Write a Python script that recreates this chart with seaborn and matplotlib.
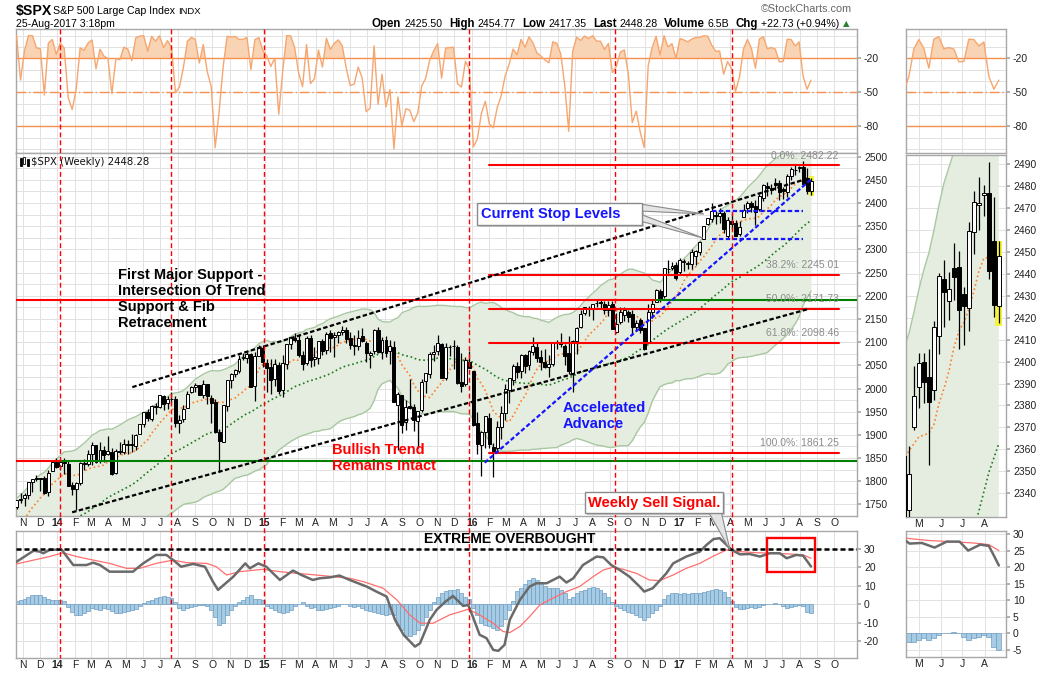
import numpy as np
import pandas as pd
import matplotlib
matplotlib.use("Agg")
import matplotlib.pyplot as plt
import matplotlib.dates as mdates
from matplotlib.patches import Rectangle, Polygon
from matplotlib.lines import Line2D
import seaborn as sns

sns.set_theme(style="white")
plt.rcParams["font.family"] = ["Liberation Sans", "DejaVu Sans"]
plt.rcParams["axes.unicode_minus"] = False

# ------------------------------------------------------------------ data
# weekly candles, one per week, first week starting Monday 2013-10-21
first_monday = "2013-10-21"

opens = [
    1744.7, 1759.4, 1763.4, 1769.7, 1798.8, 1806.3, 1806.6, 1806.2, 1777.5, 1822.9, 1841.5,
    1832.3, 1841.3, 1837.2, 1791.0, 1782.7, 1796.2, 1838.8, 1836.8, 1857.7, 1877.9, 1842.8, 1867.7,
    1859.2, 1863.9, 1818.2, 1865.8, 1863.6, 1879.5, 1880.0, 1876.7, 1902.0, 1923.9, 1949.0, 1934.8,
    1962.9, 1960.8, 1984.2, 1967.7, 1976.9, 1978.3, 1926.0, 1933.4, 1958.4, 1991.7, 2004.1, 2007.2,
    1986.0, 2009.1, 1979.0, 1970.0, 1905.7, 1885.6, 1963.0, 2018.2, 2032.0, 2038.3, 2065.1, 2065.8,
    2074.8, 2005.0, 2069.5, 2087.6,
    2054.4, 2046.1, 2020.8, 2050.4, 1996.7, 2053.5, 2096.5, 2109.8, 2105.2, 2072.3, 2055.4, 2108.0,
    2064.1, 2064.9, 2102.0, 2084.1, 2119.3, 2110.2, 2115.6, 2121.3, 2125.3, 2108.6, 2092.3, 2091.3,
    2112.5, 2098.6, 2073.0, 2080.0, 2126.9, 2078.2, 2104.5, 2081.0, 2089.7, 1965.2, 1986.7, 1927.3,
    1963.1, 1960.8, 1929.2, 1954.3, 2015.7, 2031.7, 2075.1, 2080.8, 2096.6, 2022.1, 2089.4, 2091.0,
    2090.4, 2013.4, 2010.3, 2057.8,
    2038.2, 1926.1, 1878.9, 1906.3, 1936.9, 1873.3, 1871.4, 1917.8, 1947.1, 1996.1, 2019.3, 2047.9,
    2037.9, 2073.2, 2050.2, 2078.8, 2089.4, 2067.2, 2057.6, 2046.5, 2052.2, 2100.1, 2100.8, 2091.8,
    2075.6, 2031.5, 2103.0, 2131.7, 2162.0, 2173.1, 2173.1, 2183.8, 2186.1, 2181.6, 2170.2, 2181.6,
    2120.9, 2144.0, 2158.5, 2164.3, 2160.4, 2133.0, 2148.5, 2129.8, 2100.6, 2165.6, 2186.4, 2210.2,
    2200.6, 2258.8, 2259.2, 2266.2,
    2251.6, 2273.6, 2269.1, 2267.8, 2286.0, 2294.3, 2321.7, 2354.0, 2366.1, 2375.2, 2371.6, 2378.2,
    2329.1, 2362.3, 2357.2, 2332.6, 2370.3, 2388.5, 2399.9, 2393.0, 2387.2, 2411.7, 2437.8, 2427.4,
    2442.5, 2443.3, 2431.0, 2424.5, 2459.1, 2471.5, 2475.9, 2476.9, 2455.0, 2425.5,
]

highs = [
    1759.8, 1775.2, 1774.5, 1798.2, 1804.8, 1813.6, 1806.6, 1811.5, 1823.8, 1844.9, 1849.4,
    1843.2, 1850.8, 1844.9, 1798.8, 1798.0, 1841.6, 1847.5, 1867.9, 1883.6, 1878.3, 1884.0, 1875.2,
    1897.3, 1872.4, 1869.6, 1884.9, 1891.3, 1889.1, 1902.2, 1901.3, 1924.0, 1949.4, 1955.6, 1963.9,
    1968.2, 1985.6, 1985.6, 1983.9, 1991.4, 1984.9, 1942.9, 1964.0, 1994.8, 2005.0, 2011.2, 2007.7,
    2019.3, 2010.3, 1986.0, 1977.4, 1912.0, 1965.3, 2018.2, 2034.3, 2041.3, 2071.5, 2075.8, 2079.5,
    2075.8, 2077.9, 2093.5, 2093.5,
    2064.4, 2064.1, 2064.6, 2057.6, 2072.4, 2097.0, 2110.6, 2119.6, 2117.5, 2081.4, 2113.9, 2114.9,
    2089.8, 2102.6, 2107.0, 2120.9, 2125.9, 2121.0, 2123.9, 2134.7, 2132.3, 2121.9, 2115.0, 2126.7,
    2130.0, 2102.6, 2081.6, 2128.0, 2132.8, 2110.6, 2112.7, 2105.4, 2103.5, 1993.5, 1986.7, 1975.0,
    2020.9, 1966.2, 1951.4, 2020.1, 2033.5, 2079.7, 2094.3, 2116.5, 2099.2, 2097.1, 2094.1, 2104.3,
    2093.8, 2076.7, 2067.4, 2081.6,
    2038.2, 1950.3, 1908.9, 1940.2, 1947.2, 1881.6, 1930.7, 1963.0, 2009.1, 2022.4, 2052.4, 2056.6,
    2074.0, 2075.1, 2083.2, 2111.1, 2099.9, 2083.4, 2084.9, 2071.9, 2100.8, 2105.3, 2120.6, 2096.1,
    2113.3, 2105.2, 2131.7, 2169.1, 2175.6, 2178.3, 2182.9, 2193.8, 2193.4, 2187.9, 2187.9, 2187.9,
    2162.3, 2175.3, 2175.3, 2169.6, 2169.6, 2148.4, 2151.4, 2131.1, 2182.3, 2189.9, 2214.1, 2214.1,
    2259.5, 2277.5, 2272.6, 2273.8,
    2282.1, 2279.3, 2276.0, 2301.0, 2299.4, 2319.2, 2351.3, 2368.3, 2401.0, 2383.6, 2390.0, 2382.4,
    2370.4, 2378.4, 2364.2, 2361.4, 2398.2, 2403.9, 2403.9, 2405.8, 2418.7, 2440.2, 2446.2, 2440.9,
    2453.8, 2450.4, 2434.0, 2463.5, 2477.6, 2484.0, 2480.4, 2490.9, 2474.9, 2454.77,
]

lows = [
    1740.5, 1752.7, 1746.2, 1760.6, 1777.2, 1800.1, 1779.1, 1772.3, 1767.9, 1822.9, 1827.7,
    1823.7, 1815.8, 1790.3, 1770.5, 1737.9, 1791.8, 1824.6, 1832.4, 1834.4, 1839.6, 1839.9, 1842.0,
    1856.7, 1814.4, 1815.8, 1859.5, 1859.8, 1859.8, 1862.4, 1868.1, 1901.3, 1916.0, 1929.6, 1930.0,
    1944.7, 1958.2, 1952.9, 1955.6, 1965.7, 1916.4, 1904.8, 1928.3, 1958.4, 1990.5, 1991.6, 1985.2,
    1978.6, 1966.0, 1926.0, 1905.0, 1820.7, 1883.8, 1951.4, 2001.0, 2025.9, 2034.4, 2062.3, 2054.3,
    2002.3, 1972.6, 2069.3, 2046.0,
    1992.4, 1988.1, 2004.5, 1989.2, 1980.9, 2041.9, 2085.4, 2099.4, 2067.3, 2039.7, 2049.9, 2045.5,
    2048.4, 2052.1, 2072.4, 2073.5, 2077.8, 2067.9, 2099.1, 2115.2, 2099.1, 2085.7, 2072.1, 2084.0,
    2101.4, 2056.3, 2044.0, 2075.0, 2077.1, 2063.5, 2067.0, 2052.1, 1970.9, 1867.0, 1903.1, 1911.5,
    1956.6, 1908.8, 1871.9, 1949.4, 1990.7, 2022.1, 2058.8, 2072.8, 2022.0, 2019.4, 2070.3, 2042.4,
    2008.9, 1993.3, 2005.9, 2043.6,
    1918.5, 1857.8, 1812.3, 1872.7, 1872.7, 1810.1, 1865.9, 1891.0, 1931.8, 1969.3, 2007.9, 2022.0,
    2022.5, 2033.8, 2039.7, 2072.9, 2057.5, 2039.5, 2045.0, 2025.9, 2047.7, 2085.0, 2088.6, 2050.4,
    2032.1, 1991.7, 2074.0, 2131.5, 2159.0, 2155.8, 2147.6, 2175.0, 2171.7, 2160.0, 2157.1, 2127.8,
    2119.1, 2139.1, 2144.9, 2142.6, 2114.7, 2124.4, 2119.4, 2083.8, 2097.6, 2151.7, 2186.4, 2187.4,
    2195.0, 2248.4, 2254.8, 2233.6,
    2245.1, 2254.3, 2258.8, 2257.0, 2267.2, 2288.1, 2321.7, 2352.9, 2358.9, 2354.2, 2356.2, 2335.8,
    2322.25, 2344.7, 2328.95, 2328.0, 2369.0, 2379.0, 2381.0, 2352.7, 2382.4, 2403.6, 2415.7, 2418.8,
    2428.0, 2405.7, 2407.7, 2413.8, 2449.0, 2459.9, 2466.5, 2437.8, 2420.4, 2417.35,
]

closes = [
    1759.8, 1761.6, 1770.6, 1798.2, 1804.8, 1805.8, 1805.1, 1775.3, 1818.3, 1841.4, 1831.4,
    1842.4, 1838.7, 1790.3, 1782.6, 1797.0, 1838.6, 1836.3, 1859.5, 1878.0, 1841.1, 1866.5, 1857.6,
    1865.1, 1815.7, 1864.9, 1863.4, 1881.1, 1878.5, 1877.9, 1900.5, 1923.6, 1949.4, 1936.2, 1962.9,
    1960.9, 1985.4, 1967.6, 1978.2, 1978.3, 1925.2, 1931.6, 1955.1, 1988.4, 2003.4, 2007.7, 1985.5,
    2010.4, 1982.9, 1967.9, 1906.1, 1886.8, 1964.6, 2018.1, 2031.9, 2039.8, 2063.5, 2067.6, 2075.4,
    2002.3, 2070.7, 2088.8, 2058.2,
    2044.8, 2019.4, 2051.8, 1995.0, 2055.5, 2097.0, 2110.3, 2104.5, 2071.3, 2053.4, 2108.1, 2061.0,
    2067.0, 2102.1, 2081.2, 2117.7, 2108.3, 2116.1, 2122.7, 2126.1, 2107.4, 2092.8, 2094.1, 2110.0,
    2101.5, 2076.8, 2076.6, 2126.6, 2079.7, 2103.8, 2077.6, 2091.5, 1970.9, 1988.9, 1921.2, 1961.1,
    1958.0, 1931.3, 1951.4, 2014.9, 2033.1, 2075.2, 2079.4, 2099.2, 2023.0, 2089.2, 2090.1, 2091.7,
    2012.4, 2005.6, 2061.0, 2043.9,
    1922.0, 1880.3, 1906.9, 1940.2, 1880.1, 1864.8, 1917.8, 1948.05, 2000.0, 2022.2, 2049.6, 2035.9,
    2072.8, 2047.6, 2080.7, 2091.6, 2065.3, 2057.1, 2046.6, 2052.3, 2099.1, 2099.1, 2096.1, 2071.2,
    2037.4, 2103.0, 2129.9, 2161.7, 2175.0, 2173.6, 2182.9, 2184.05, 2183.9, 2169.0, 2180.0, 2127.8,
    2139.2, 2164.7, 2168.3, 2153.7, 2133.0, 2141.2, 2126.4, 2085.2, 2164.5, 2181.9, 2213.35, 2191.95,
    2259.5, 2258.1, 2263.8, 2238.8,
    2277.0, 2274.6, 2271.3, 2294.7, 2297.4, 2316.1, 2351.2, 2367.3, 2383.1, 2372.6, 2378.25, 2344.0,
    2362.7, 2355.5, 2328.95, 2348.7, 2384.2, 2399.3, 2390.9, 2381.7, 2415.8, 2439.1, 2431.8, 2433.15,
    2438.3, 2423.4, 2425.2, 2459.3, 2472.5, 2472.1, 2476.8, 2441.3, 2425.55, 2448.28,
]

# weekly closes of the 55 weeks before the window (only used to warm up the moving averages)
warmup_closes = [
    1460.9, 1428.6, 1433.2, 1411.9, 1414.2, 1379.9, 1359.9, 1409.2, 1416.2, 1418.1, 1413.6, 1430.2,
    1402.4, 1466.5, 1472.1, 1486.0, 1503.0, 1513.2, 1517.9, 1519.8, 1515.6, 1518.2, 1551.2, 1560.7,
    1556.9, 1569.2, 1553.3, 1588.9, 1555.3, 1582.2, 1614.4, 1633.7, 1667.5, 1649.6, 1630.7, 1643.4,
    1626.7, 1592.4, 1606.3, 1631.9, 1680.2, 1692.1, 1691.7, 1709.7, 1691.4, 1655.8, 1663.5, 1633.0,
    1655.2, 1688.0, 1709.9, 1691.8, 1690.5, 1703.2, 1744.5,
]

# MACD panel
macd_dates = [
    "2013-10-21", "2013-11-20", "2013-12-01", "2013-12-07", "2013-12-18", "2014-01-08",
    "2014-01-29", "2014-02-21", "2014-03-05", "2014-03-17", "2014-04-03", "2014-05-14",
    "2014-06-01", "2014-06-24", "2014-07-12", "2014-07-24", "2014-08-07", "2014-08-28",
    "2014-09-18", "2014-10-02", "2014-10-11", "2014-11-07", "2014-11-28", "2014-12-06",
    "2014-12-21", "2015-01-04", "2015-01-28", "2015-02-20", "2015-03-07", "2015-03-27",
    "2015-04-08", "2015-04-26", "2015-05-13", "2015-05-31", "2015-06-30", "2015-07-17",
    "2015-08-04", "2015-08-19", "2015-09-03", "2015-09-23", "2015-10-02", "2015-10-19",
    "2015-10-31", "2015-11-16", "2015-11-29", "2015-12-17", "2015-12-26", "2016-01-03",
    "2016-01-15", "2016-01-27", "2016-02-08", "2016-02-17", "2016-02-28", "2016-03-08",
    "2016-03-26", "2016-04-12", "2016-04-24", "2016-05-12", "2016-06-04", "2016-06-16",
    "2016-06-28", "2016-07-15", "2016-08-08", "2016-08-20", "2016-09-03", "2016-09-18",
    "2016-10-05", "2016-10-23", "2016-10-31", "2016-11-15", "2016-12-09", "2016-12-21",
    "2017-01-13", "2017-02-06", "2017-02-18", "2017-03-02", "2017-03-13", "2017-03-22",
    "2017-04-03", "2017-04-18", "2017-05-05", "2017-05-23", "2017-06-09", "2017-06-27",
    "2017-07-09", "2017-07-26", "2017-08-07", "2017-08-14", "2017-08-21",
]
macd_values = [
    23.1, 29.1, 28.6, 27.7, 29.5, 29.8,
    21.3, 21.3, 22.6, 21.3, 17.7, 17.7,
    22.2, 26.8, 26.8, 24.0, 20.4, 21.9,
    20.4, 12.3, 7.8, 15.0, 22.2, 19.5,
    22.2, 20.4, 13.2, 18.3, 15.9, 13.2,
    14.1, 14.6, 15.6, 13.2, 9.6, 6.9,
    4.2, -8.5, -16.6, -23.0, -21.2, -8.5,
    -3.1, 1.5, 4.5, -0.9, -0.4, -6.7,
    -16.6, -18.4, -24.8, -25.3, -22.0, -8.5,
    2.4, 9.6, 11.4, 11.4, 15.0, 11.8,
    14.1, 21.3, 25.9, 25.5, 21.3, 18.6,
    15.0, 9.6, 6.9, 8.7, 16.8, 22.2,
    25.9, 28.6, 32.3, 35.4, 35.9, 33.2,
    29.5, 27.1, 27.3, 25.9, 27.7, 27.7,
    25.0, 26.8, 26.4, 23.5, 20.5,
]
signal_line_dates = [
    "2013-10-21", "2013-11-20", "2013-12-18", "2014-01-11", "2014-02-04", "2014-03-05",
    "2014-04-03", "2014-05-03", "2014-05-26", "2014-06-24", "2014-07-24", "2014-08-16",
    "2014-09-21", "2014-10-08", "2014-10-26", "2014-11-18", "2014-12-29", "2015-01-28",
    "2015-02-26", "2015-04-02", "2015-05-02", "2015-05-31", "2015-06-24", "2015-07-29",
    "2015-08-22", "2015-09-14", "2015-10-02", "2015-10-25", "2015-11-23", "2015-12-26",
    "2016-01-15", "2016-02-08", "2016-02-25", "2016-03-08", "2016-03-26", "2016-04-12",
    "2016-04-30", "2016-05-23", "2016-06-16", "2016-07-09", "2016-08-02", "2016-08-20",
    "2016-09-06", "2016-09-24", "2016-10-17", "2016-11-09", "2016-11-27", "2016-12-21",
    "2017-01-13", "2017-02-06", "2017-03-02", "2017-03-25", "2017-04-18", "2017-05-17",
    "2017-06-15", "2017-07-15", "2017-08-07", "2017-08-21",
]
signal_line_values = [
    21.9, 24.0, 25.9, 28.0, 25.9, 24.0,
    22.2, 19.5, 19.5, 22.2, 24.0, 22.6,
    22.2, 20.4, 15.9, 17.7, 19.0, 17.7,
    16.8, 15.9, 15.0, 14.1, 12.3, 8.7,
    2.4, -5.8, -10.3, -10.3, -5.8, -2.7,
    -5.8, -10.3, -14.8, -15.4, -12.1, -6.7,
    -0.4, 3.3, 6.9, 9.6, 15.0, 18.6,
    20.1, 19.0, 16.8, 13.2, 12.8, 15.9,
    19.5, 22.2, 26.2, 29.5, 28.6, 28.0,
    27.7, 27.3, 26.8, 25.0,
]
# weekly histogram bars (one per candle)
hist_values = [
    1.5, 2.5, 3, 4, 5, 5, 5, 4, 3, 2.5, 2.5,
    2.5, 2, -1.5, -4, -6, -6, -4.5, -3.5, -2, -2.5, -3, -2, -2.5, -3.5, -4.5, -4.5, -4,
    -3.5, -3, -2.5, -1, 0.5, 1.5, 2.5, 3.5, 4, 4.5, 4, 3.5, 1, -2, -3, -2, -1.5,
    -1, -0.5, -0.5, -1, -3, -7, -11, -10, -6, -3, -1, 1, 2.5, 4, 5, 3, 3, 2.5,
    -1, -2, -3, -4, -4.5, -4, -3, -1, 0, 1, -1, -2, -1.5, -3, -3, -2.5, -2,
    -1.5, -1, 0, 0, -1, -1.5, -1, -2, -3, -3.5, -4, -5, -5.5, -6, -5.5, -6, -11, -14,
    -17, -17, -16, -14, -11, -7, -3, 1, 4, 6, 7, 7.5, 8, 8.5, 6, 4, 3,
    -2, -6, -10, -11, -12, -13, -14, -12, -8, -3, 2, 7, 9, 11, 13, 14, 13,
    12, 10, 9, 9, 9, 8, 6, 3, 4, 6, 7, 8, 9, 9.5, 9, 8, 6, 4,
    1, -1, -2, -3, -4, -5, -6, -7, -8.5, -7, -5, -3, -1, 3, 5, 6, 6,
    5.5, 6, 5.5, 6, 6, 6, 6.5, 7, 7.5, 8.5, 8, 6.5, 4, 2, -1.5, -2.5, -2.5,
    -2, -1.5, -2, -1.5, -0.5, 0, 0, 0.5, 0, -1, -2, -1.5, -1, -0.5, -1, -4, -5,
]

# annotation data (dates, price levels)
signal_dates = ["2014-01-06", "2014-07-21", "2014-12-31", "2015-12-28", "2016-09-10", "2017-04-03"]
fib_levels = [2482.22, 2245.01, 2171.73, 2098.46, 1861.25]
fib_labels = ["0.0%: 2482.22", "38.2%: 2245.01", "50.0%: 2171.73", "61.8%: 2098.46", "100.0%: 1861.25"]
fib_span = ["2016-02-01", "2017-10-09"]
support_upper = 2190.0
support_upper_switch = "2016-11-20"
support_lower = 1843.0
support_lower_switch = "2014-01-07"
upper_channel_dates = ["2014-05-13", "2017-08-15"]
upper_channel_prices = [2003.0, 2453.0]
lower_channel_dates = ["2014-01-27", "2017-08-15"]
lower_channel_prices = [1733.0, 2171.0]
accel_dates = ["2016-01-24", "2017-08-21"]
accel_prices = [1840.0, 2451.0]
stop_dates = ["2017-02-28", "2017-08-06"]
stop_levels = [2382.0, 2323.0]
box_dates = ["2017-06-04", "2017-08-28"]
box_values = [17.7, 36.1]

# ------------------------------------------------------------------ indicators
dates = pd.date_range(first_monday, periods=len(closes), freq="W-MON")
xd = mdates.date2num(dates.to_pydatetime())
o = np.array(opens); hi = np.array(highs); lo = np.array(lows); c = np.array(closes)

full = pd.Series(list(warmup_closes) + list(closes))
nw = len(warmup_closes)
sma10 = full.rolling(10).mean().to_numpy()[nw:]
mid40 = full.rolling(40).mean()
sd40 = full.rolling(40).std(ddof=0)
bb_up = (mid40 + 2 * sd40).to_numpy()[nw:]
bb_lo = (mid40 - 2 * sd40).to_numpy()[nw:]
sma40 = mid40.to_numpy()[nw:]
hh = pd.Series(hi).rolling(14, min_periods=1).max().to_numpy()
ll = pd.Series(lo).rolling(14, min_periods=1).min().to_numpy()
wr = (hh - c) / (hh - ll) * -100.0


def d2n(s):
    return mdates.date2num(pd.Timestamp(s).to_pydatetime())


macd_x = np.array([d2n(d) for d in macd_dates])
sig_x = np.array([d2n(d) for d in signal_line_dates])
hist = np.array(hist_values)

# ------------------------------------------------------------------ figure
W, H = 1050, 673
fig = plt.figure(figsize=(W / 100, H / 100), dpi=100)
fig.patch.set_facecolor("white")


def fx(x):
    return x / W


def fy(y):
    return 1 - y / H


def add_ax(x0, y0, x1, y1):
    return fig.add_axes([fx(x0), fy(y1), (x1 - x0) / W, (y1 - y0) / H])


L0, L1 = 16, 857
R0, R1 = 906, 1006
ax_t = add_ax(L0, 29, L1, 153)
ax_m = add_ax(L0, 153, L1, 516)
ax_b = add_ax(L0, 531, L1, 658)
rx_t = add_ax(R0, 29, R1, 153)
rx_m = add_ax(R0, 155, R1, 517)
rx_b = add_ax(R0, 531, R1, 657)

left_xlim = (d2n("2013-10-20"), d2n("2017-11-10"))
right_xlim = (d2n("2017-04-13"), d2n("2017-08-31"))
GRID = "#e2e2e2"
TXT = "#222222"


def base_style(ax, xlim, mstart, mend, show_labels):
    ax.set_facecolor("white")
    for s in ax.spines.values():
        s.set_color("#a8a8a8")
        s.set_linewidth(1.0)
    ax.set_xlim(*xlim)
    ms = pd.date_range(mstart, mend, freq="MS")
    pos = mdates.date2num(ms.to_pydatetime())
    ax.set_xticks(pos)
    if show_labels:
        labs = [("%02d" % (d.year % 100)) if d.month == 1 else "JFMAMJJASOND"[d.month - 1] for d in ms]
        ax.set_xticklabels(labs)
        for t, d in zip(ax.get_xticklabels(), ms):
            if d.month == 1:
                t.set_fontweight("bold")
                t.set_fontsize(8.5)
    else:
        ax.set_xticklabels([])
    ax.yaxis.tick_right()
    ax.tick_params(axis="y", which="major", length=3, color="#a8a8a8", labelsize=7.5,
                   labelcolor=TXT, pad=2, right=True, left=False)
    ax.tick_params(axis="y", which="minor", length=0)
    ax.tick_params(axis="x", length=0, labelsize=7.5, labelcolor=TXT, pad=1.5)
    ax.grid(True, which="both", color=GRID, linewidth=0.7)
    ax.set_axisbelow(True)
    ax.set_xlabel("")
    ax.set_ylabel("")


def candles(ax, width):
    ax.vlines(xd, lo, hi, color="black", linewidth=0.9, zorder=4)
    body_lo = np.minimum(o, c)
    body_h = np.abs(c - o)
    colors = np.where(c >= o, "white", "black")
    ax.bar(xd, body_h, bottom=body_lo, width=width, color=colors, edgecolor="black",
           linewidth=0.7, zorder=5)


def overlays(ax):
    ax.fill_between(xd, bb_lo, bb_up, color="#e5ede0", linewidth=0, zorder=1)
    sns.lineplot(x=xd, y=bb_up, ax=ax, color="#a9c8a2", linewidth=1.0, zorder=2)
    sns.lineplot(x=xd, y=bb_lo, ax=ax, color="#a9c8a2", linewidth=1.0, zorder=2)
    sns.lineplot(x=xd, y=sma10, ax=ax, color="#ff7f27", linewidth=1.2, linestyle=":", zorder=3)
    sns.lineplot(x=xd, y=sma40, ax=ax, color="#1f7a1f", linewidth=1.2, linestyle=":", zorder=3)


def wr_panel(ax):
    ax.fill_between(xd, wr, -20, where=wr >= -20, interpolate=True, color="#f8d4b4",
                    linewidth=0, zorder=2)
    sns.lineplot(x=xd, y=wr, ax=ax, color="#f6a66f", linewidth=1.0, zorder=3)
    ax.axhline(-20, color="#f5904e", linewidth=1.0, zorder=2.5)
    ax.axhline(-50, color="#f5904e", linewidth=1.0, linestyle=(0, (7, 2, 1, 2)), zorder=2.5)
    ax.axhline(-80, color="#f5904e", linewidth=1.0, zorder=2.5)
    ax.set_ylim(-103.6, 5.9)
    ax.set_yticks([-20, -50, -80])
    ax.set_yticklabels(["-20", "-50", "-80"])
    ax.set_yticks(np.arange(-100, 1, 10), minor=True)


def macd_panel(ax):
    ax.bar(xd, hist, width=7, color="#a7cbe3", edgecolor="#6d9ec4", linewidth=0.5, zorder=2)
    sns.lineplot(x=sig_x, y=signal_line_values, ax=ax, color="#ff6e6e", linewidth=0.9, zorder=3)
    sns.lineplot(x=macd_x, y=macd_values, ax=ax, color="#6a6a6a", linewidth=1.8, zorder=4)


# ---------------- left top: Williams %R
wr_panel(ax_t)
base_style(ax_t, left_xlim, "2013-11-01", "2017-10-31", False)

# ---------------- left main: candles
overlays(ax_m)
last = len(c) - 1
ax_m.add_patch(Rectangle((xd[last] - 4.4, lo[last] - 3), 8.8, hi[last] - lo[last] + 6,
                         facecolor="#f4f43c", edgecolor="none", zorder=3.5))
candles(ax_m, 5.2)
ax_m.set_ylim(1726, 2508)
ax_m.set_yticks(np.arange(1750, 2501, 50))
ax_m.set_yticks(np.arange(1725, 2501, 25), minor=True)
base_style(ax_m, left_xlim, "2013-11-01", "2017-10-31", True)

fx0, fx1 = d2n(fib_span[0]), d2n(fib_span[1])
for lev, lab in zip(fib_levels, fib_labels):
    ax_m.plot([fx0, fx1], [lev, lev], color="#ff0000", linewidth=1.5, zorder=6)
    ax_m.annotate(lab, (fx1, lev), xytext=(0, 3.2), textcoords="offset points", ha="right",
                  va="bottom", fontsize=7.5, color="#8c8c8c", zorder=7)

ax_m.plot([left_xlim[0], d2n(support_upper_switch)], [support_upper] * 2, color="#ff0000",
          linewidth=1.5, zorder=6)
ax_m.plot([d2n(support_upper_switch), left_xlim[1]], [support_upper] * 2, color="#008000",
          linewidth=1.5, zorder=6)
ax_m.plot([left_xlim[0], d2n(support_lower_switch)], [support_lower] * 2, color="#ff0000",
          linewidth=1.5, zorder=6)
ax_m.plot([d2n(support_lower_switch), left_xlim[1]], [support_lower] * 2, color="#008000",
          linewidth=1.5, zorder=6)

dash = (0, (2, 1.1))
ax_m.plot([d2n(d) for d in upper_channel_dates], upper_channel_prices, color="black",
          linewidth=1.6, linestyle=dash, zorder=6)
ax_m.plot([d2n(d) for d in lower_channel_dates], lower_channel_prices, color="black",
          linewidth=1.6, linestyle=dash, zorder=6)
ax_m.plot([d2n(d) for d in accel_dates], accel_prices, color="#1414ff", linewidth=1.6,
          linestyle=dash, zorder=6)
for lev in stop_levels:
    ax_m.plot([d2n(d) for d in stop_dates], [lev, lev], color="#1414ff", linewidth=1.6,
              linestyle=dash, zorder=6)

# ---------------- left bottom: MACD
macd_panel(ax_b)
ax_b.axhline(30, color="black", linewidth=1.8, linestyle=(0, (2, 1.2)), zorder=5)
ax_b.add_patch(Rectangle((d2n(box_dates[0]), box_values[0]),
                         d2n(box_dates[1]) - d2n(box_dates[0]), box_values[1] - box_values[0],
                         fill=False, edgecolor="#ff0000", linewidth=1.7, zorder=6))
ax_b.set_ylim(-29.2, 39.8)
ax_b.set_yticks([-20, -10, 0, 10, 20, 30])
base_style(ax_b, left_xlim, "2013-11-01", "2017-10-31", True)

# ---------------- right panels
wr_panel(rx_t)
base_style(rx_t, right_xlim, "2017-05-01", "2017-08-31", False)

overlays(rx_m)
rx_m.add_patch(Rectangle((xd[last] - 4.9, 2416.4), 9.8, 2455.0 - 2416.4,
                         facecolor="#f4f43c", edgecolor="none", zorder=3.5))
candles(rx_m, 4.9)
rx_m.set_ylim(2329.2, 2494.1)
rx_m.set_yticks(np.arange(2340, 2491, 10))
base_style(rx_m, right_xlim, "2017-05-01", "2017-08-31", True)

macd_panel(rx_b)
rx_b.set_ylim(-7.1, 30.9)
rx_b.set_yticks(np.arange(-5, 31, 5))
base_style(rx_b, right_xlim, "2017-05-01", "2017-08-31", True)

# ---------------- vertical signal lines across the left panels
for d in signal_dates:
    xp = ax_m.transData.transform((d2n(d), 2000))[0]
    xf = fig.transFigure.inverted().transform((xp, 0))[0]
    fig.add_artist(Line2D([xf, xf], [fy(29), fy(658)], transform=fig.transFigure,
                          color="#ff0000", linewidth=1.0, linestyle=(0, (3.5, 2.2)), zorder=2.5))

# ---------------- header
fig.text(fx(16), fy(11), "$SPX", fontsize=10.2, fontweight="bold", va="center", color="black")
fig.text(fx(53), fy(11), "S&P 500 Large Cap Index", fontsize=7.6, va="center", color="black")
fig.text(fx(178), fy(11), "INDX", fontsize=6.8, va="center", color="black")
fig.text(fx(16), fy(24), "25-Aug-2017 3:18pm", fontsize=7.6, va="center", color="black")
fig.text(fx(852), fy(9), "\u00a9StockCharts.com", fontsize=7.8, va="center", ha="right",
         color="#666666")

renderer = fig.canvas.get_renderer()
pieces = [("Open", True), ("2425.50", False), ("High", True), ("2454.77", False),
          ("Low", True), ("2417.35", False), ("Last", True), ("2448.28", False),
          ("Volume", True), ("6.5B", False), ("Chg", True), ("+22.73 (+0.94%)", False)]
xcur = 372
for s, b in pieces:
    t = fig.text(fx(xcur), fy(24), s, fontsize=8.3 if b else 7.6,
                 fontweight="bold" if b else "normal", va="center", ha="left", color="black")
    xcur += t.get_window_extent(renderer).width + (3 if b else 6.5)
fig.text(fx(xcur - 3), fy(24), "\u25b2", fontsize=6, va="center", ha="left", color="#2e7d32",
         family=["DejaVu Sans"])

# legend label in main panel
fig.text(fx(31), fy(162), "$SPX (Weekly) 2448.28", fontsize=7.3, va="center",
         family=["DejaVu Sans"], color="#111111")
for (x0, y0, y1, filled) in [(19.5, 158, 166, True), (23, 157, 164, False), (26.5, 159, 166, True)]:
    fig.add_artist(Rectangle((fx(x0), fy(y1)), 2.2 / W, (y1 - y0) / H, transform=fig.transFigure,
                             facecolor="black" if filled else "white", edgecolor="black",
                             linewidth=0.6, zorder=5))


# ---------------- annotations
def ftext(x, y, s, color, size=10.5, **kw):
    return fig.text(fx(x), fy(y), s, fontsize=size, fontweight="bold", color=color,
                    va="center", ha="left", zorder=12, **kw)


for i, s in enumerate(["First Major Support -", "Intersection Of Trend", "Support & Fib",
                       "Retracement"]):
    ftext(118, 275.5 + 15.8 * i, s, "black")
ftext(332, 450, "Bullish Trend", "#ff0000")
ftext(332, 466, "Remains Intact", "#ff0000")
ftext(563, 408, "Accelerated", "#1414ff")
ftext(563, 424, "Advance", "#1414ff")
ftext(424, 539, "EXTREME OVERBOUGHT", "black", size=10.1)


def callout_box(x0, y0, x1, y1):
    fig.add_artist(Rectangle((fx(x0 + 2), fy(y1 + 2)), (x1 - x0) / W, (y1 - y0) / H,
                             transform=fig.transFigure, facecolor="#c8c8c8", edgecolor="none",
                             zorder=9))
    fig.add_artist(Rectangle((fx(x0), fy(y1)), (x1 - x0) / W, (y1 - y0) / H,
                             transform=fig.transFigure, facecolor="white", edgecolor="#8a8a8a",
                             linewidth=1.0, zorder=10))


def tail(points):
    fig.add_artist(Polygon([(fx(x), fy(y)) for x, y in points], closed=True,
                           transform=fig.transFigure, facecolor="#e4e4e4", edgecolor="#8a8a8a",
                           linewidth=0.8, zorder=9.5))


tail([(640, 204), (640, 211), (704, 214)])
tail([(640, 214), (640, 221), (703, 238)])
callout_box(477, 203, 642, 225)
ftext(481, 214, "Current Stop Levels", "#1414ff")

tail([(708, 511), (721, 511), (730, 550)])
callout_box(585, 492, 723, 513)
ftext(588, 502.5, "Weekly Sell Signal.", "#ff0000")

fig.savefig("out.png", dpi=100)
